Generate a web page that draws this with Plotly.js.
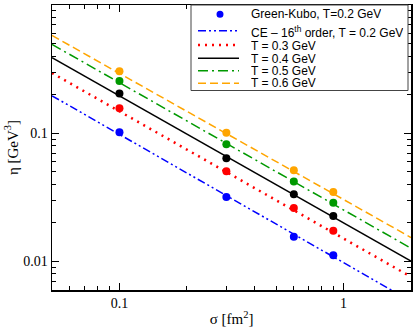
<!DOCTYPE html>
<html>
<head>
    <title>Shear viscosity vs cross section</title>
    <style>
        html, body, #plot {
            height: 100%;
            width: 100%;
            margin: 0;
            padding: 0;
            overflow: hidden;
            background: #fff;
        }
    </style>
    <script src="https://cdn.plot.ly/plotly-3.0.1.min.js"></script>
</head>

<body>
<div id="plot"></div>
<script>
    // Green-Kubo points (sigma in fm^2, eta in GeV^3)
    const sigma = [0.1, 0.3, 0.6, 0.9];
    const gkT02 = [0.102, 0.0318, 0.0156, 0.0112];
    const gkT03 = [0.157, 0.0506, 0.0261, 0.0174];
    const gkT04 = [0.204, 0.0639, 0.0335, 0.0226];
    const gkT05 = [0.255, 0.082, 0.042, 0.0287];
    const gkT06 = [0.305, 0.101, 0.0515, 0.0349];

    // Chapman-Enskog curves, straight on log-log, read at both ends
    const lineSigma = [0.05, 2];
    const ceT02 = [0.196, 0.0049];
    const ceT03 = [0.295, 0.0076];
    const ceT04 = [0.388, 0.0101];
    const ceT05 = [0.493, 0.0127];
    const ceT06 = [0.579, 0.0154];

    const dotName = 'Green-Kubo, T=0.2 GeV';
    const lineNames = ['CE \u2013 16<sup>th</sup> order, T = 0.2 GeV', 'T = 0.3 GeV', 'T = 0.4 GeV', 'T = 0.5 GeV', 'T = 0.6 GeV'];

    const xMajor = [0.1, 1];
    const xMinor = [0.06, 0.07, 0.08, 0.09, 0.2, 0.3, 0.4, 0.5, 0.6, 0.7, 0.8, 0.9, 2];
    const yMajor = [0.01, 0.1, 1];
    const yMinor = [0.007, 0.008, 0.009, 0.02, 0.03, 0.04, 0.05, 0.06, 0.07, 0.08, 0.09,
                    0.2, 0.3, 0.4, 0.5, 0.6, 0.7, 0.8, 0.9];

    function createPlot() {
        const W = 414, H = 327;
        const margin = {l: 52, r: 3, t: 5, b: 37, pad: 0};
        const plotW = W - margin.l - margin.r;
        const plotH = H - margin.t - margin.b;
        // pixel -> paper coords, used only for the hand-drawn legend box
        const px = function (x) { return (x - margin.l) / plotW; };
        const py = function (y) { return 1 - (y - margin.t) / plotH; };

        const colors = ['#0000ff', '#ff0000', '#000000', '#009900', '#ffa500'];
        const dashes = ['8px,3px,2px,3px,2px,3px', '2px,5px', 'solid', '10px,4px,2px,4px', '8px,4px'];
        const widths = [1.5, 2.5, 1.5, 1.5, 1.5];
        const lineData = [ceT02, ceT03, ceT04, ceT05, ceT06];
        const dotData = [gkT02, gkT03, gkT04, gkT05, gkT06];

        const data = [];
        lineData.forEach(function (vals, i) {
            data.push({
                x: lineSigma, y: vals, type: 'scatter', mode: 'lines',
                name: lineNames[i],
                line: {color: colors[i], dash: dashes[i], width: widths[i]}
            });
        });
        dotData.forEach(function (vals, i) {
            data.push({
                x: sigma, y: vals, type: 'scatter', mode: 'markers',
                name: i === 0 ? dotName : 'T = 0.' + (i + 2) + ' GeV',
                marker: {color: colors[i], size: 8}
            });
        });

        // legend drawn by hand so rows can be as tight as in the original
        const shapes = [{
            type: 'rect', xref: 'paper', yref: 'paper', layer: 'above',
            x0: px(191), x1: px(408), y0: py(5), y1: py(90.5),
            line: {color: '#444', width: 1}, fillcolor: '#fff'
        }, {
            type: 'circle', xref: 'paper', yref: 'paper', layer: 'above',
            x0: px(216.5), x1: px(223.5), y0: py(10.8), y1: py(17.8),
            line: {width: 0}, fillcolor: colors[0]
        }];
        const rowY = [30.7, 45, 58.3, 70.7, 83.3];
        rowY.forEach(function (y, i) {
            shapes.push({
                type: 'line', xref: 'paper', yref: 'paper', layer: 'above',
                x0: px(198), x1: px(239), y0: py(y), y1: py(y),
                line: {color: colors[i], dash: dashes[i], width: widths[i]}
            });
        });
        const textY = [14.3, 32, 45.5, 58.5, 71, 83.5];
        const legendFont = {family: 'Liberation Sans, Arial, sans-serif', size: 12, color: '#000'};
        const annotations = [dotName].concat(lineNames).map(function (t, i) {
            return {
                text: t, xref: 'paper', yref: 'paper', showarrow: false,
                x: px(250), y: py(textY[i]), xanchor: 'left', yanchor: 'middle',
                height: i === 1 ? 16 : 12, borderpad: 0, valign: 'middle',
                font: legendFont
            };
        });

        const axisCommon = {
            type: 'log',
            showline: true,
            linecolor: '#000',
            linewidth: 1.5,
            mirror: 'allticks',
            ticks: 'inside',
            ticklen: 7,
            tickwidth: 1,
            tickcolor: '#000',
            showgrid: false,
            zeroline: false,
            tickfont: {family: 'Liberation Serif, serif', size: 14, color: '#000'},
            minor: {ticks: 'inside', ticklen: 4, tickwidth: 1, tickcolor: '#000', showgrid: false}
        };

        const layout = {
            width: W,
            height: H,
            paper_bgcolor: '#fff',
            plot_bgcolor: '#fff',
            margin: margin,
            showlegend: false,
            shapes: shapes,
            annotations: annotations,
            xaxis: Object.assign({}, axisCommon, {
                range: [Math.log10(0.05), Math.log10(2)],
                tickvals: xMajor,
                ticktext: ['0.1', '1'],
                minor: Object.assign({}, axisCommon.minor, {tickvals: xMinor}),
                title: {text: '\u03c3 [fm<sup>2</sup>]', standoff: 4,
                        font: {family: 'Liberation Serif, serif', size: 15, color: '#000'}}
            }),
            yaxis: Object.assign({}, axisCommon, {
                range: [Math.log10(0.006), 0],
                tickvals: yMajor,
                ticktext: ['0.01', '0.1', '1'],
                minor: Object.assign({}, axisCommon.minor, {tickvals: yMinor}),
                title: {text: '\u03b7 [GeV<sup>3</sup>]', standoff: 1,
                        font: {family: 'Liberation Serif, serif', size: 15, color: '#000'}}
            })
        };

        Plotly.newPlot('plot', data, layout, {displayModeBar: false, staticPlot: true});
    }

    document.addEventListener('DOMContentLoaded', createPlot);
</script>
</body>
</html>
